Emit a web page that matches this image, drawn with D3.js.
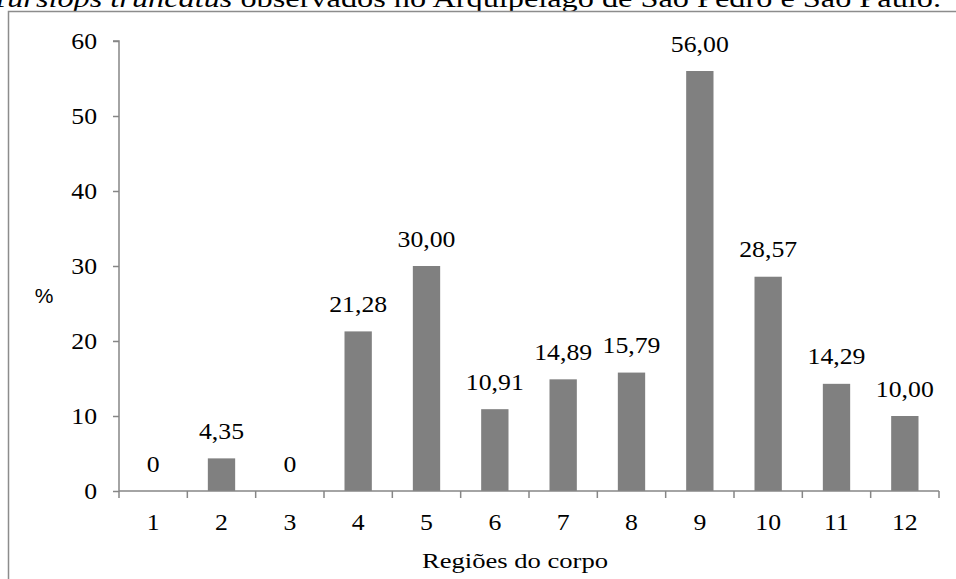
<!DOCTYPE html>
<html>
<head>
<meta charset="utf-8">
<script src="https://cdn.jsdelivr.net/npm/d3@7"></script>
<style>
  html, body { margin: 0; padding: 0; background: #fff; }
  svg { display: block; }
</style>
</head>
<body>
<script>
// Percentage per body region
const regions = ["1", "2", "3", "4", "5", "6", "7", "8", "9", "10", "11", "12"];
const values = [0, 4.35, 0, 21.28, 30.00, 10.91, 14.89, 15.79, 56.00, 28.57, 14.29, 10.00];
const valueLabels = ["0", "4,35", "0", "21,28", "30,00", "10,91", "14,89", "15,79", "56,00", "28,57", "14,29", "10,00"];
const yTicks = [0, 10, 20, 30, 40, 50, 60];

const W = 956, H = 579;
const svg = d3.select("body").append("svg").attr("width", W).attr("height", H);

const serif = "Liberation Serif";
const axisColor = "#868686";
const stretch = 1.12; // text is slightly wider than tall

// Places a horizontally widened serif label at (x, y)
function label(g, x, y, txt, anchor, size) {
  return g.append("text")
    .attr("transform", `translate(${x},${y}) scale(${stretch},1)`)
    .attr("text-anchor", anchor)
    .style("font-family", serif).style("font-size", size + "px").attr("fill", "#000")
    .text(txt);
}

// Caption line above the chart frame
const cap = svg.append("text")
  .attr("x", -9).attr("y", 7)
  .attr("textLength", 950).attr("lengthAdjust", "spacingAndGlyphs")
  .style("font-family", serif).style("font-size", "25px").attr("fill", "#000");
cap.append("tspan").style("font-style", "italic").text("Tursiops truncatus");
cap.append("tspan").text(" observados no Arquipélago de São Pedro e São Paulo.");

// Chart frame (top and left edges visible)
svg.append("path")
  .attr("d", `M8.5,${H} V11.5 H${W}`)
  .attr("fill", "none").attr("stroke", "#8c8c8c").attr("stroke-width", 1.5);

const plot = { left: 119, right: 939, top: 41, bottom: 491 };

const x = d3.scaleBand().domain(regions).range([plot.left, plot.right]).paddingInner(0.6).paddingOuter(0.3);
const y = d3.scaleLinear().domain([0, 60]).range([plot.bottom, plot.top]);

// Bars
svg.append("g").selectAll("rect").data(values).join("rect")
  .attr("x", (d, i) => x(regions[i]))
  .attr("y", d => y(d))
  .attr("width", x.bandwidth())
  .attr("height", d => y(0) - y(d))
  .attr("fill", "#808080");

// Value labels
const vl = svg.append("g");
values.forEach((d, i) => label(vl, x(regions[i]) + x.bandwidth() / 2, y(d) - 19.5, valueLabels[i], "middle", 23));

// Y axis line and ticks
const yAxis = svg.append("g").attr("transform", `translate(${plot.left},0)`)
  .call(d3.axisLeft(y).tickValues(yTicks).tickSize(6).tickFormat(""));
yAxis.select(".domain").attr("stroke", axisColor).attr("stroke-width", 1.5).attr("d", `M-6,${plot.top}H0V${plot.bottom}`);
yAxis.selectAll(".tick line").attr("stroke", axisColor).attr("stroke-width", 1.5);
const yl = svg.append("g");
yTicks.forEach(t => label(yl, 97, y(t) + 8, String(t), "end", 23));

// X axis: ticks at category boundaries
const bounds = d3.range(regions.length + 1).map(i => plot.left + i * (plot.right - plot.left) / regions.length);
const xg = svg.append("g");
xg.append("line")
  .attr("x1", plot.left).attr("x2", plot.right)
  .attr("y1", plot.bottom).attr("y2", plot.bottom)
  .attr("stroke", axisColor).attr("stroke-width", 1.5);
xg.selectAll("line.t").data(bounds).join("line").attr("class", "t")
  .attr("x1", d => d).attr("x2", d => d)
  .attr("y1", plot.bottom).attr("y2", plot.bottom + 7)
  .attr("stroke", axisColor).attr("stroke-width", 1.5);
regions.forEach(r => label(xg, x(r) + x.bandwidth() / 2, 530, r, "middle", 23));

// Axis titles
svg.append("text")
  .attr("x", 422).attr("y", 568)
  .attr("textLength", 186).attr("lengthAdjust", "spacingAndGlyphs")
  .style("font-family", serif).style("font-size", "21px").attr("fill", "#000")
  .text("Regiões do corpo");

svg.append("text")
  .attr("x", 44).attr("y", 303)
  .attr("text-anchor", "middle")
  .style("font-family", "Liberation Sans").style("font-size", "21px").attr("fill", "#000")
  .text("%");
</script>
</body>
</html>
